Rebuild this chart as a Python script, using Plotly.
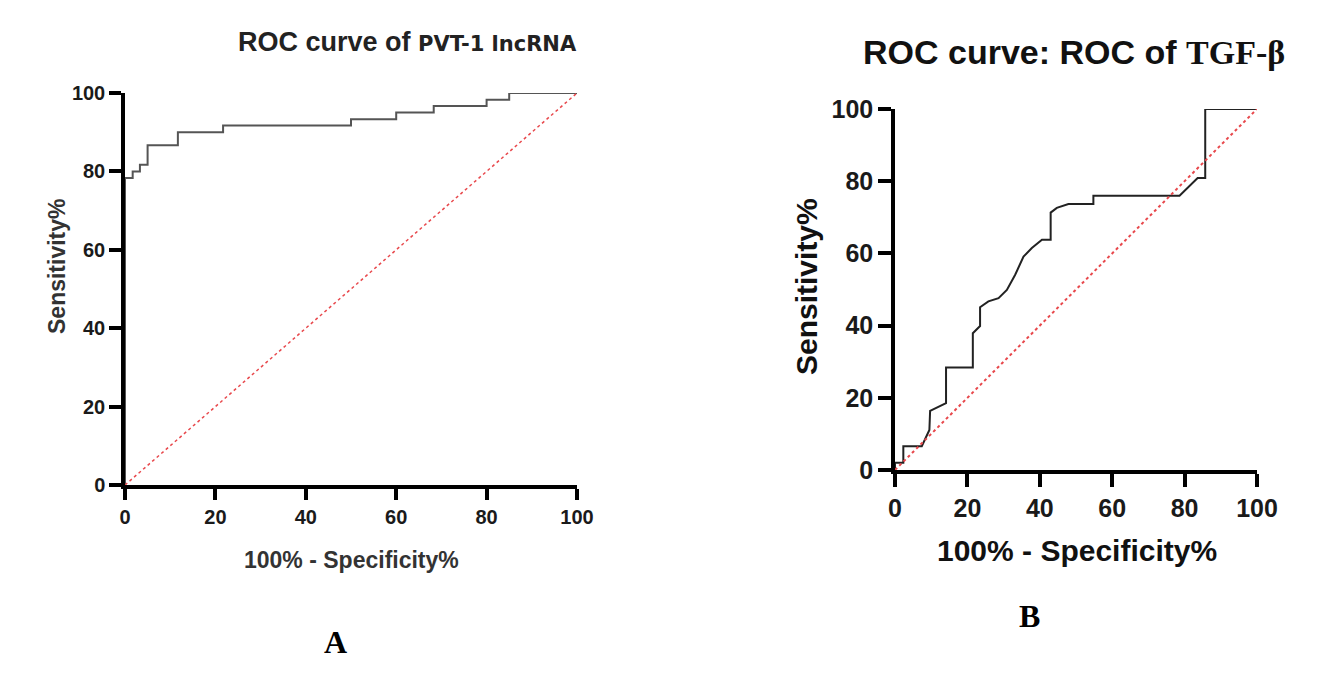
import plotly.graph_objects as go

# Panel A - PVT-1 lncRNA ROC (step curve)
pvt_fpr = [0, 0, 1.7, 3.3, 5.0, 11.7, 21.7, 50.0, 60.0, 68.3, 80.0, 85.0, 100]
pvt_sens = [0, 78.3, 80.0, 81.7, 86.7, 90.0, 91.7, 93.3, 95.0, 96.7, 98.3, 100, 100]

# Panel B - TGF-beta ROC
tgf_fpr = [0, 0, 2.3, 2.3, 7.4, 9.5, 9.7, 14.1, 14.1, 21.5, 21.5, 23.5, 23.5, 25.8, 28.6,
           30.9, 33.2, 35.5, 37.8, 40.6, 43.0, 43.0, 44.7, 47.9, 54.8, 54.8, 78.6, 83.6,
           85.7, 85.7, 100]
tgf_sens = [0, 2.0, 2.0, 6.6, 6.6, 11.1, 16.4, 18.5, 28.4, 28.4, 37.9, 39.9, 45.1, 46.7, 47.6,
            49.9, 54.1, 59.1, 61.5, 63.8, 63.8, 71.3, 72.6, 73.7, 73.7, 76.0, 76.0, 80.9,
            80.9, 100, 100]

ref_line = [0, 100]
ticks = [0, 20, 40, 60, 80, 100]

# page body has an 8px margin, so the figure is drawn 8px in from the corner
OFF = 8
W, H = 1317 - OFF, 688 - OFF
SANS = "Liberation Sans"
SERIF = "Liberation Serif"

fig = go.Figure()

fig.add_trace(go.Scatter(x=pvt_fpr, y=pvt_sens, mode="lines", line_shape="hv",
                         line=dict(color="#555555", width=2), xaxis="x", yaxis="y",
                         cliponaxis=False))
fig.add_trace(go.Scatter(x=ref_line, y=ref_line, mode="lines",
                         line=dict(color="#e8484c", width=1.5, dash="dot"),
                         xaxis="x", yaxis="y"))
fig.add_trace(go.Scatter(x=tgf_fpr, y=tgf_sens, mode="lines",
                         line=dict(color="#222222", width=2), xaxis="x2", yaxis="y2",
                         cliponaxis=False))
fig.add_trace(go.Scatter(x=ref_line, y=ref_line, mode="lines",
                         line=dict(color="#e8484c", width=2, dash="dot"),
                         xaxis="x2", yaxis="y2"))


def px_x(p):
    return (p - OFF) / W


def px_y(p):
    return 1 - (p - OFF) / H


def axis(domain, anchor, size, ticklen):
    return dict(domain=domain, anchor=anchor, range=[0, 100], tickvals=ticks,
                showline=True, linecolor="black", linewidth=3.5, ticks="outside",
                ticklen=ticklen, tickwidth=3.5, tickcolor="black", showgrid=False,
                zeroline=False, fixedrange=True, automargin=False,
                tickfont=dict(family=SANS, size=size, color="#1a1a1a", weight="bold"))


fig.update_layout(
    width=W, height=H,
    margin=dict(l=0, r=0, t=0, b=0, autoexpand=False),
    paper_bgcolor="white", plot_bgcolor="white",
    showlegend=False,
    xaxis=axis([px_x(125), px_x(577)], "y", 20, 11),
    yaxis=axis([px_y(485), px_y(93)], "x", 20, 12),
    xaxis2=axis([px_x(895), px_x(1257)], "y2", 25, 13),
    yaxis2=axis([px_y(470), px_y(109)], "x2", 25, 13),
)

annots = [
    # panel A titles
    dict(x=px_x(407), y=px_y(42),
         text="ROC curve of <span style='font-family:DejaVu Sans;font-size:21px'>PVT-1 lncRNA</span>",
         font=dict(family=SANS, size=27, color="#222222", weight="bold")),
    dict(x=px_x(351), y=px_y(560), text="100% - Specificity%",
         font=dict(family=SANS, size=23, color="#333333", weight="bold")),
    dict(x=px_x(57), y=px_y(266), text="Sensitivity%", textangle=-90,
         font=dict(family=SANS, size=23, color="#333333", weight="bold")),
    dict(x=px_x(335), y=px_y(642), text="A",
         font=dict(family=SERIF, size=32, color="black", weight="bold")),
    # panel B titles
    dict(x=px_x(1074), y=px_y(52),
         text="ROC curve: ROC of <span style='font-family:Liberation Serif'>TGF-β</span>",
         font=dict(family=SANS, size=34, color="#111111", weight="bold")),
    dict(x=px_x(1077), y=px_y(550), text="100% - Specificity%",
         font=dict(family=SANS, size=30, color="#111111", weight="bold")),
    dict(x=px_x(806), y=px_y(287), text="Sensitivity%", textangle=-90,
         font=dict(family=SANS, size=30, color="#111111", weight="bold")),
    dict(x=px_x(1029), y=px_y(616), text="B",
         font=dict(family=SERIF, size=32, color="black", weight="bold")),
]
for a in annots:
    a.update(xref="paper", yref="paper", showarrow=False, xanchor="center", yanchor="middle")
    fig.add_annotation(**a)

fig.write_html("out.html")
